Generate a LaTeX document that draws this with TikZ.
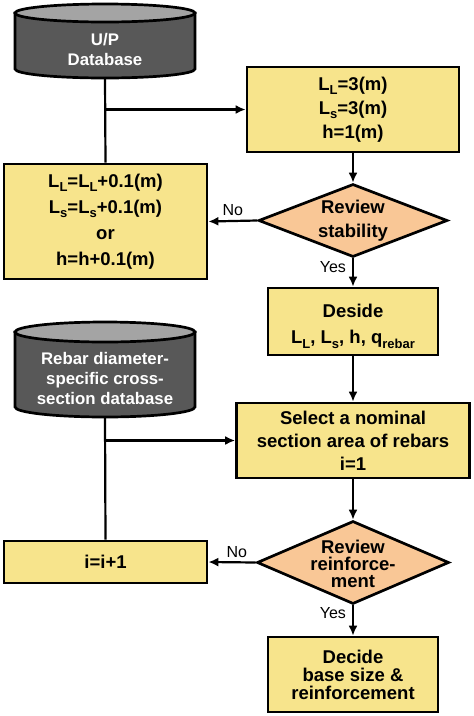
\documentclass[tikz,border=0pt]{standalone}
\usepackage{fontspec}
\setmainfont{Liberation Sans}
\usetikzlibrary{shapes.geometric,arrows.meta}
\definecolor{boxfill}{HTML}{F7E48C}
\definecolor{decfill}{HTML}{F9C796}
\definecolor{dbbody}{HTML}{585858}
\definecolor{dbtop}{HTML}{A4A4A4}
\newcommand\sbs[1]{\raisebox{-0.45ex}{\fontsize{13}{13}\selectfont #1}}
\begin{document}
\begin{tikzpicture}[x=1pt,y=-1pt,
 procbox/.style={draw, line width=2.7pt, fill=boxfill, rectangle, inner sep=0pt, align=center, font=\bfseries\fontsize{18.5}{23}\selectfont},
 decbox/.style={draw, line width=2.7pt, fill=decfill, diamond, inner sep=0pt},
 intext/.style={inner sep=0pt, align=center, font=\bfseries\fontsize{18.5}{23}\selectfont},
 dbtext/.style={inner sep=0pt, align=center, text=white, font=\bfseries\fontsize{16.8}{20}\selectfont},
 conn/.style={line width=2.2pt},
 arr/.style={conn, -{Latex[length=10pt,width=9pt]}},
 lbl/.style={font=\fontsize{16}{18}\selectfont, inner sep=0pt},
 dbshape/.style={draw, line width=2.7pt, fill=dbbody},
 dbcap/.style={draw, line width=2.7pt, fill=dbtop}
]
\useasboundingbox (0,0) rectangle (474,716);

% database cylinders
\draw[dbshape] (15,13) -- (15,69) arc[start angle=180,end angle=360,x radius=90pt,y radius=9pt] -- (195,13) -- cycle;
\draw[dbcap] (105,13) ellipse [x radius=90pt, y radius=9pt];
\node[dbtext, minimum width=180pt, minimum height=58pt] (db1) at (105,49) {U/P\\Database};

\draw[dbshape] (15,332) -- (15,407) arc[start angle=180,end angle=360,x radius=90pt,y radius=10pt] -- (195,332) -- cycle;
\draw[dbcap] (105,332) ellipse [x radius=90pt, y radius=10pt];
\node[dbtext, minimum width=180pt, minimum height=78pt] (db2) at (105,378) {Rebar diameter-\\specific cross-\\section database};

% process boxes
\node[procbox, minimum width=212pt, minimum height=85pt, font=\bfseries\fontsize{18.5}{24}\selectfont] (b1) at (353,109.5)
  {L\sbs{L}=3(m)\\L\sbs{s}=3(m)\\h=1(m)};
\node[procbox, minimum width=203pt, minimum height=115pt, font=\bfseries\fontsize{18.5}{26}\selectfont] (b2) at (105.5,221.5)
  {L\sbs{L}=L\sbs{L}+0.1(m)\\L\sbs{s}=L\sbs{s}+0.1(m)\\or\\h=h+0.1(m)};
\node[decbox, minimum width=189pt, minimum height=73pt,
  label={[intext, font=\bfseries\fontsize{18.5}{24}\selectfont]center:{Review\\stability}}] (d1) at (353,220.5) {};
\node[procbox, minimum width=170pt, minimum height=67pt,
  label={[intext, font=\bfseries\fontsize{18.5}{23}\selectfont, yshift=-5pt]center:{Deside\\[3pt]L\sbs{L}, L\sbs{s}, h, q\sbs{rebar}}}] (b3) at (353,321.5) {};
\node[procbox, minimum width=233pt, minimum height=75pt] (b4) at (353,440.5)
  {Select a nominal\\section area of rebars\\i=1};
\node[decbox, minimum width=192pt, minimum height=83pt,
  label={[intext, font=\bfseries\fontsize{18.5}{17}\selectfont, yshift=-1pt]center:{Review\\reinforce-\\ment}}] (d2) at (353,562.5) {};
\node[procbox, minimum width=203pt, minimum height=42pt] (b5) at (105.5,562)
  {i=i+1};
\node[procbox, minimum width=170pt, minimum height=75pt, font=\bfseries\fontsize{18.5}{18}\selectfont] (b6) at (353,674.5)
  {Decide\\base size \&\\reinforcement};

% connectors
\draw[conn] (db1.south) -- (b2.north);
\draw[arr] (db1.south |- b1.west) -- (b1.west);
\draw[arr] (b1.south) -- (d1.north);
\draw[arr] (d1.west) -- node[lbl, pos=0.5, above=4pt] {No} (b2.east);
\draw[arr] (d1.south) -- node[lbl, pos=0.3, left=6pt] {Yes} (b3.north);
\draw[arr] (b3.south) -- (b4.north);
\draw[conn] (db2.south) -- (b5.north);
\draw[arr] (db2.south |- b4.west) -- (b4.west);
\draw[arr] (b4.south) -- (d2.north);
\draw[arr] (d2.west) -- node[lbl, pos=0.4, above=4pt] {No} (b5.east);
\draw[arr] (d2.south) -- node[lbl, pos=0.27, left=6pt] {Yes} (b6.north);
\end{tikzpicture}
\end{document}
